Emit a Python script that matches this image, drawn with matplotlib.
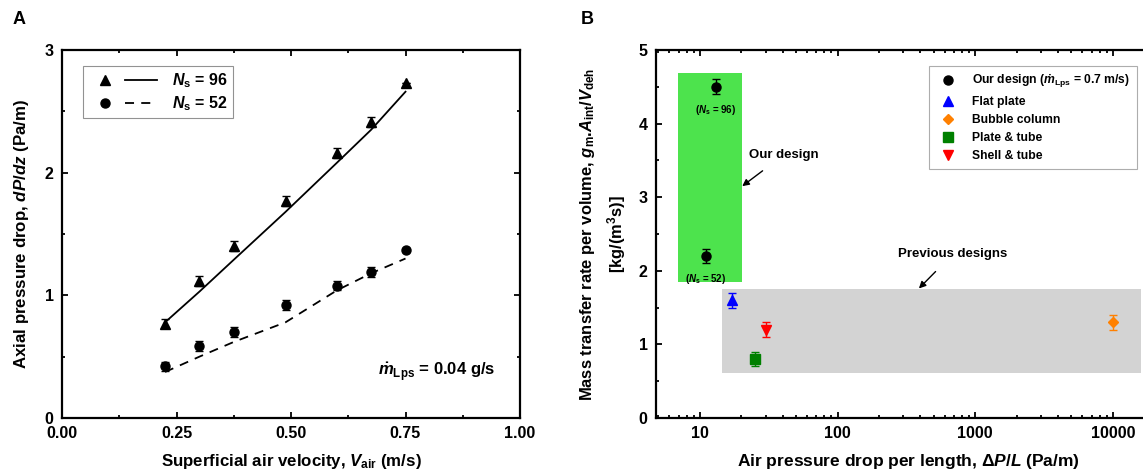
import matplotlib
matplotlib.use("Agg")
import matplotlib.pyplot as plt
from matplotlib.patches import Rectangle
from matplotlib.lines import Line2D
from matplotlib.legend_handler import HandlerTuple

plt.rcParams['font.family'] = ['Liberation Sans', 'DejaVu Sans']
plt.rcParams['font.weight'] = 'bold'
plt.rcParams['mathtext.fontset'] = 'custom'
plt.rcParams['mathtext.rm'] = 'Liberation Sans:bold'
plt.rcParams['mathtext.it'] = 'Liberation Sans:bold:italic'
plt.rcParams['mathtext.bf'] = 'Liberation Sans:bold'

# panel A data
v_air = [0.225, 0.30, 0.375, 0.488, 0.60, 0.675, 0.75]
dp96 = [0.77, 1.12, 1.40, 1.77, 2.16, 2.41, 2.73]
dp96_err = [0.04, 0.04, 0.04, 0.04, 0.04, 0.04, 0.0]
fit96 = [0.78, 1.03, 1.29, 1.68, 2.08, 2.35, 2.66]
dp52 = [0.42, 0.59, 0.70, 0.92, 1.08, 1.19, 1.37]
dp52_err = [0.04, 0.04, 0.04, 0.04, 0.04, 0.04, 0.0]
fit52 = [0.375, 0.50, 0.62, 0.78, 1.04, 1.18, 1.30]

# panel B data
our_dp = [13, 11]
our_rate = [4.5, 2.2]
our_labels = ['($N_\\mathrm{s}$ = 96)', '($N_\\mathrm{s}$ = 52)']
prev_names = ['Flat plate', 'Bubble column', 'Plate & tube', 'Shell & tube']
prev_dp = [17, 10000, 25, 30]
prev_rate = [1.6, 1.3, 0.8, 1.2]
prev_colors = ['#0000ff', '#ff8000', '#008000', '#ff0000']
prev_markers = ['^', 'D', 's', 'v']
err = 0.1

fig = plt.figure(figsize=(11.43, 4.73), dpi=100)

# ---------- A ----------
ax = fig.add_axes([62/1143, 1-418/473, (520-62)/1143, (418-50)/473])
ax.errorbar(v_air, dp96, yerr=dp96_err, fmt='^', color='black', ms=7,
            capsize=3, elinewidth=1)
ax.plot(v_air, fit96, '-', color='black', lw=1.3)
ax.errorbar(v_air, dp52, yerr=dp52_err, fmt='o', color='black', ms=6.5,
            capsize=3, elinewidth=1)
ax.plot(v_air, fit52, '--', color='black', lw=1.3, dashes=(5, 4))
ax.set_xlim(0, 1)
ax.set_ylim(0, 3)
ax.set_xticks([0, 0.25, 0.5, 0.75, 1.0])
ax.set_xticklabels(['0.00', '0.25', '0.50', '0.75', '1.00'])
ax.set_xticks([0.125, 0.375, 0.625, 0.875], minor=True)
ax.set_yticks([0, 1, 2, 3])
ax.set_yticks([0.5, 1.5, 2.5], minor=True)
ax.set_xlabel('Superficial air velocity, $V_\\mathrm{air}$ (m/s)', fontsize=12.2,
              fontweight='bold', labelpad=8)
ax.set_ylabel('Axial pressure drop, $dP/dz$ (Pa/m)', fontsize=12.2,
              fontweight='bold', labelpad=10)
ax.text(0.69, 0.375, '$\\dot{m}_\\mathrm{Lps}$ = 0.04 g/s', fontsize=12,
        ha='left', va='center', fontweight='bold')
m1 = Line2D([], [], color='black', marker='^', ms=7, ls='none')
l1 = Line2D([], [], color='black', ls='-', lw=1.3)
m2 = Line2D([], [], color='black', marker='o', ms=6.5, ls='none')
l2 = Line2D([], [], color='black', ls='--', lw=1.3, dashes=(5, 4))
leg = ax.legend([(m1, l1), (m2, l2)], ['$N_\\mathrm{s}$ = 96', '$N_\\mathrm{s}$ = 52'],
                handler_map={tuple: HandlerTuple(ndivide=2, pad=0.3)},
                loc='upper left', bbox_to_anchor=(0.046, 0.957), borderaxespad=0,
                fontsize=11.5, handlelength=4.3, handletextpad=0.9, fancybox=False,
                edgecolor='#777777', borderpad=0.35, labelspacing=0.25)
leg.get_frame().set_linewidth(0.8)
fig.text(13/1143, 1-20/473, 'A', fontsize=13, fontweight='bold', va='center')

# ---------- B ----------
bx = fig.add_axes([656/1143, 1-418/473, (1160-656)/1143, (418-50)/473])
bx.set_xscale('log')
bx.add_patch(Rectangle((6.9, 1.85), 20.3-6.9, 4.69-1.85, facecolor='#4de34d',
                       edgecolor='none', zorder=0))
bx.add_patch(Rectangle((14.4, 0.61), 16000-14.4, 1.75-0.61, facecolor='#d3d3d3',
                       edgecolor='none', zorder=0))
bx.errorbar(our_dp, our_rate, yerr=err, fmt='o', color='black', ms=6.5,
            capsize=3, elinewidth=1)
for x, y, t in zip(our_dp, our_rate, our_labels):
    bx.text(x, y - 0.22, t, fontsize=7, ha='center', va='top', fontweight='bold')
handles = [Line2D([], [], color='black', marker='o', ms=6.5, ls='none')]
labels = ['Our design ($\\dot{m}_\\mathrm{Lps}$ = 0.7 m/s)']
for name, x, y, c, m in zip(prev_names, prev_dp, prev_rate, prev_colors, prev_markers):
    ms = 6.5 if m != 'D' else 5.5
    bx.errorbar([x], [y], yerr=err, fmt=m, color=c, ms=ms, capsize=3, elinewidth=1)
    handles.append(Line2D([], [], color=c, marker=m, ms=ms, ls='none'))
    labels.append(name)
bx.annotate('Our design', xy=(20.3, 3.15), xytext=(41, 3.58), fontsize=9.5,
            fontweight='bold', ha='center', va='center',
            arrowprops=dict(arrowstyle='-|>', color='black', lw=1,
                            shrinkA=9, shrinkB=0, mutation_scale=10))
bx.annotate('Previous designs', xy=(390, 1.76), xytext=(690, 2.23), fontsize=9.5,
            fontweight='bold', ha='center', va='center',
            arrowprops=dict(arrowstyle='-|>', color='black', lw=1,
                            shrinkA=9, shrinkB=0, mutation_scale=10))
bx.set_xlim(4.8, 22000)
bx.set_ylim(0, 5)
bx.set_xticks([10, 100, 1000, 10000])
bx.set_xticklabels(['10', '100', '1000', '10000'])
bx.set_yticks([0, 1, 2, 3, 4, 5])
bx.set_yticks([0.5, 1.5, 2.5, 3.5, 4.5], minor=True)
bx.set_xlabel('Air pressure drop per length, $\\Delta P/L$ (Pa/m)', fontsize=12.5,
              fontweight='bold', labelpad=8)
bx.set_ylabel('Mass transfer rate per volume, $g_\\mathrm{m}$.$A_\\mathrm{int}$/$V_\\mathrm{deh}$\n[kg/(m$^3$s)]',
              fontsize=11.9, fontweight='bold', labelpad=8, linespacing=1.45)
lg = bx.legend(handles, labels, loc='upper right', bbox_to_anchor=(0.954, 0.957),
               borderaxespad=0, fontsize=8.7, fancybox=False, edgecolor='#999999',
               handletextpad=1.0, borderpad=0.55, labelspacing=0.5, handlelength=2.0)
lg.get_frame().set_linewidth(0.8)
fig.text(581/1143, 1-20/473, 'B', fontsize=13, fontweight='bold', va='center')

for a in (ax, bx):
    for s in a.spines.values():
        s.set_linewidth(1.6)
    a.tick_params(which='both', direction='in', top=True, right=True, labelsize=11.5, width=1.3)
    a.tick_params(which='major', length=4, pad=6)
    a.tick_params(which='minor', length=2)
    for lab in a.get_xticklabels() + a.get_yticklabels():
        lab.set_fontweight('bold')

fig.savefig('out.png', dpi=100)
